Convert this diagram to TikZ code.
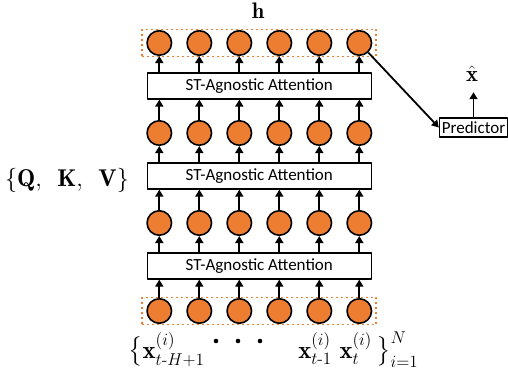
\documentclass[tikz,border=0pt]{standalone}
\usepackage{amsmath}
\usepackage{amssymb}
\usepackage{fontspec}
\setsansfont{Carlito}
\usetikzlibrary{arrows.meta,positioning,fit}
\definecolor{orange}{HTML}{ED7D31}
\tikzset{
  every picture/.style={
    line join=round,
    >={Triangle[length=7pt,width=8pt]},   % filled tips everywhere
  },
  unit/.style={circle,draw=black,line width=1.6pt,fill=orange,
    minimum size=24.5pt,inner sep=0pt},
  attn/.style={draw=black,line width=1.3pt,fill=white,minimum width=224pt,
    minimum height=26pt,inner sep=0pt,font=\sffamily\fontsize{17}{20}\selectfont},
  seq/.style={draw=orange,line width=1.8pt,dash pattern=on 1.8pt off 3.2pt,
    inner xsep=4pt,inner ysep=0.5pt},
  flow/.style={->,line width=1.8pt},
  bigmath/.style={inner sep=0pt,scale=1.3,font=\fontsize{17.28}{20}\selectfont},
  seqmath/.style={bigmath,scale=1.1},
}

\begin{document}
\begin{tikzpicture}[x=1pt,y=1pt]
\useasboundingbox (0,0) rectangle (508,373);
% hidden units, row 1 on top
\foreach \r/\y in {1/330,2/240,3/150,4/62}
  \foreach \c in {1,...,6}
    \node[unit] (u\r-\c) at ({119.3+40*\c},\y) {};
% attention layers
\foreach \b/\y in {1/287,2/197,3/107}
  \node[attn] (att\b) at (259.3,\y) {ST-Agnostic Attention};
\foreach \b in {1,2,3}{
  \pgfmathtruncatemacro\lo{\b+1}
  \foreach \c in {1,...,6}{
    \draw[flow] (u\lo-\c.north) -- (u\lo-\c.north |- att\b.south);
    \draw[flow] (att\b.north -| u\b-\c.south) -- (u\b-\c.south);
  }
}
\node[seq,fit=(u1-1)(u1-6)] (hbox) {};
\node[seq,fit=(u4-1)(u4-6)] (xbox) {};
\node[bigmath,anchor=base] (h) at (258,354) {$\mathbf{h}$};
\node[bigmath,scale=1.08] (qkv) at (67,193)
  {$\{\mathbf{Q},\ \,\mathbf{K},\ \,\mathbf{V}\}$};
% prediction head
\node[draw,line width=1.3pt,minimum width=68pt,minimum height=19pt,inner sep=1pt,
  font=\sffamily\fontsize{17}{20}\selectfont] (pred) at (473.5,245.5) {Predictor};
\node[bigmath] (xhat) at (472,299) {$\hat{\mathbf{x}}$};
\draw[flow] (pred.north) -- ([yshift=-10pt]pred.north |- xhat.south);
\draw[flow] (u1-6) -- (pred.west);
% input sequence
\node[seqmath,anchor=base west] (xfirst) at (128,15)
  {$\big\{\mathbf{x}^{(i)}_{t\text{-}H+1}$};
\foreach \d in {216,238,260}
  \fill (\d,32) circle (2.3pt);
\node[seqmath,anchor=base west] (xlast) at (298,15)
  {$\mathbf{x}^{(i)}_{t\text{-}1}\ \mathbf{x}^{(i)}_{t}\,\big\}^{N}_{i=1}$};
\end{tikzpicture}
\end{document}
